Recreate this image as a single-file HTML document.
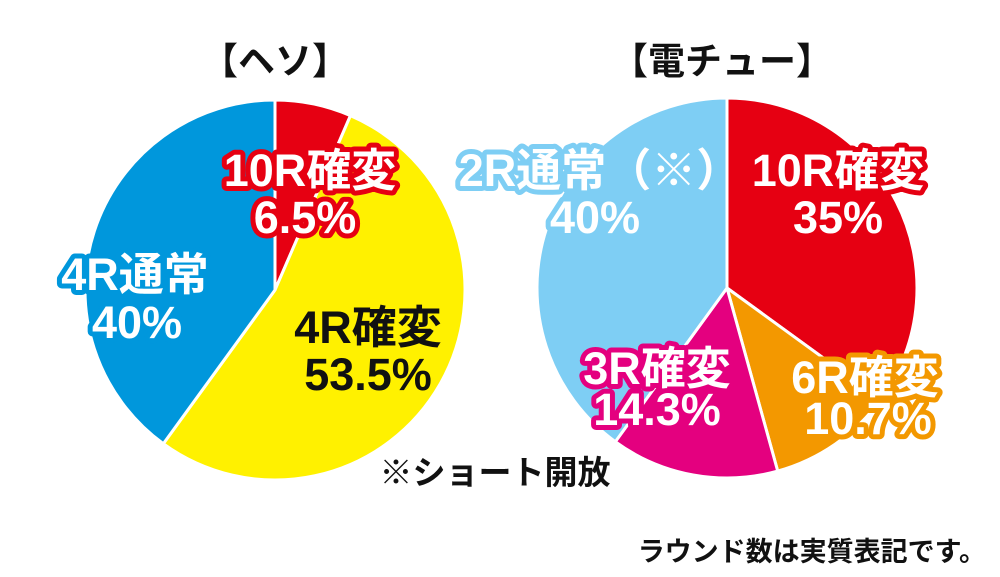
<!DOCTYPE html>
<html><head><meta charset="utf-8"><style>
html,body{margin:0;padding:0;background:#fff;width:1000px;height:577px;overflow:hidden}
svg text{font-family:"Liberation Sans","Noto Sans CJK JP",sans-serif;font-weight:bold}
.lab{stroke-width:10;stroke-linejoin:round;paint-order:stroke;font-size:45px;text-anchor:middle}
</style></head><body>
<svg id="c" width="1000" height="577" viewBox="0 0 1000 577" xmlns="http://www.w3.org/2000/svg">
<text x="275" y="74" font-size="37" text-anchor="middle" fill="#111">【ヘソ】</text>
<text x="722" y="74" font-size="37" text-anchor="middle" fill="#111">【電チュー】</text>
<g id="p1"></g><g id="p2"></g>
<g id="labels"></g>
<text x="495" y="484" font-size="33" text-anchor="middle" fill="#111">※ショート開放</text>
<text x="986" y="561" font-size="27" text-anchor="end" fill="#111">ラウンド数は実質表記です。</text>
</svg>
<script>
const hesoCategories=["10R確変","4R確変","4R通常"];
const hesoValues=[6.5,53.5,40];
const hesoColors=["#e60012","#fff100","#0097dc"];
const hesoStroke=["#e60012",null,"#0097dc"];
const denchuCategories=["10R確変","6R確変","3R確変","2R通常（※）"];
const denchuValues=[35,10.7,14.3,40];
const denchuColors=["#e60012","#f39800","#e4007f","#7ecef4"];
const ns="http://www.w3.org/2000/svg";
function pt(cx,cy,r,f){const a=f*2*Math.PI-Math.PI/2;return [cx+r*Math.cos(a),cy+r*Math.sin(a)];}
function pie(g,cx,cy,r,vals,cols,names,prefix){
  const tot=vals.reduce((a,b)=>a+b,0);let acc=0;
  vals.forEach((v,i)=>{
    const s=acc/tot;acc+=v;const e=acc/tot;
    const p0=pt(cx,cy,r,s),p1=pt(cx,cy,r,e);
    const large=(e-s)>0.5?1:0;
    const p=document.createElementNS(ns,"path");
    p.setAttribute("d",`M${cx},${cy}L${p0[0]},${p0[1]}A${r},${r} 0 ${large} 1 ${p1[0]},${p1[1]}Z`);
    p.setAttribute("fill",cols[i]);p.setAttribute("stroke","#fff");p.setAttribute("stroke-width","3");
    
    
    g.appendChild(p);
  });
}
pie(document.getElementById("p1"),275,290,190,hesoValues,hesoColors,hesoCategories,"heso");
pie(document.getElementById("p2"),727,288,190,denchuValues,denchuColors,denchuCategories,"denchu");
const L=document.getElementById("labels");
function lab(x,y,t,col,name){
  const e=document.createElementNS(ns,"text");
  e.setAttribute("x",x);e.setAttribute("y",y);e.setAttribute("class","lab");
  if(col){e.style.fill="#fff";e.style.stroke=col;}else{e.style.fill="#111";e.style.stroke="none";}
  e.textContent=t;
  
  
  L.appendChild(e);
}
lab(310,186,hesoCategories[0],hesoStroke[0],"heso-label-10r");
lab(305,233,hesoValues[0]+"%",hesoStroke[0],"heso-value-10r");
lab(368,343,hesoCategories[1],null,"heso-label-4r-kakuhen");
lab(368,390,hesoValues[1]+"%",null,"heso-value-4r-kakuhen");
lab(135,290,hesoCategories[2],hesoStroke[2],"heso-label-4r-tsujo");
lab(137,338,hesoValues[2]+"%",hesoStroke[2],"heso-value-4r-tsujo");
lab(838,186,denchuCategories[0],denchuColors[0],"denchu-label-10r");
lab(838,233,denchuValues[0]+"%",denchuColors[0],"denchu-value-10r");
lab(865,393,denchuCategories[1],denchuColors[1],"denchu-label-6r");
lab(868,434,denchuValues[1]+"%",denchuColors[1],"denchu-value-6r");
lab(657,384,denchuCategories[2],denchuColors[2],"denchu-label-3r");
lab(657,425,denchuValues[2]+"%",denchuColors[2],"denchu-value-3r");
lab(600,186,denchuCategories[3],denchuColors[3],"denchu-label-2r");
lab(595,233,denchuValues[3]+"%",denchuColors[3],"denchu-value-2r");
</script>
</body></html>
